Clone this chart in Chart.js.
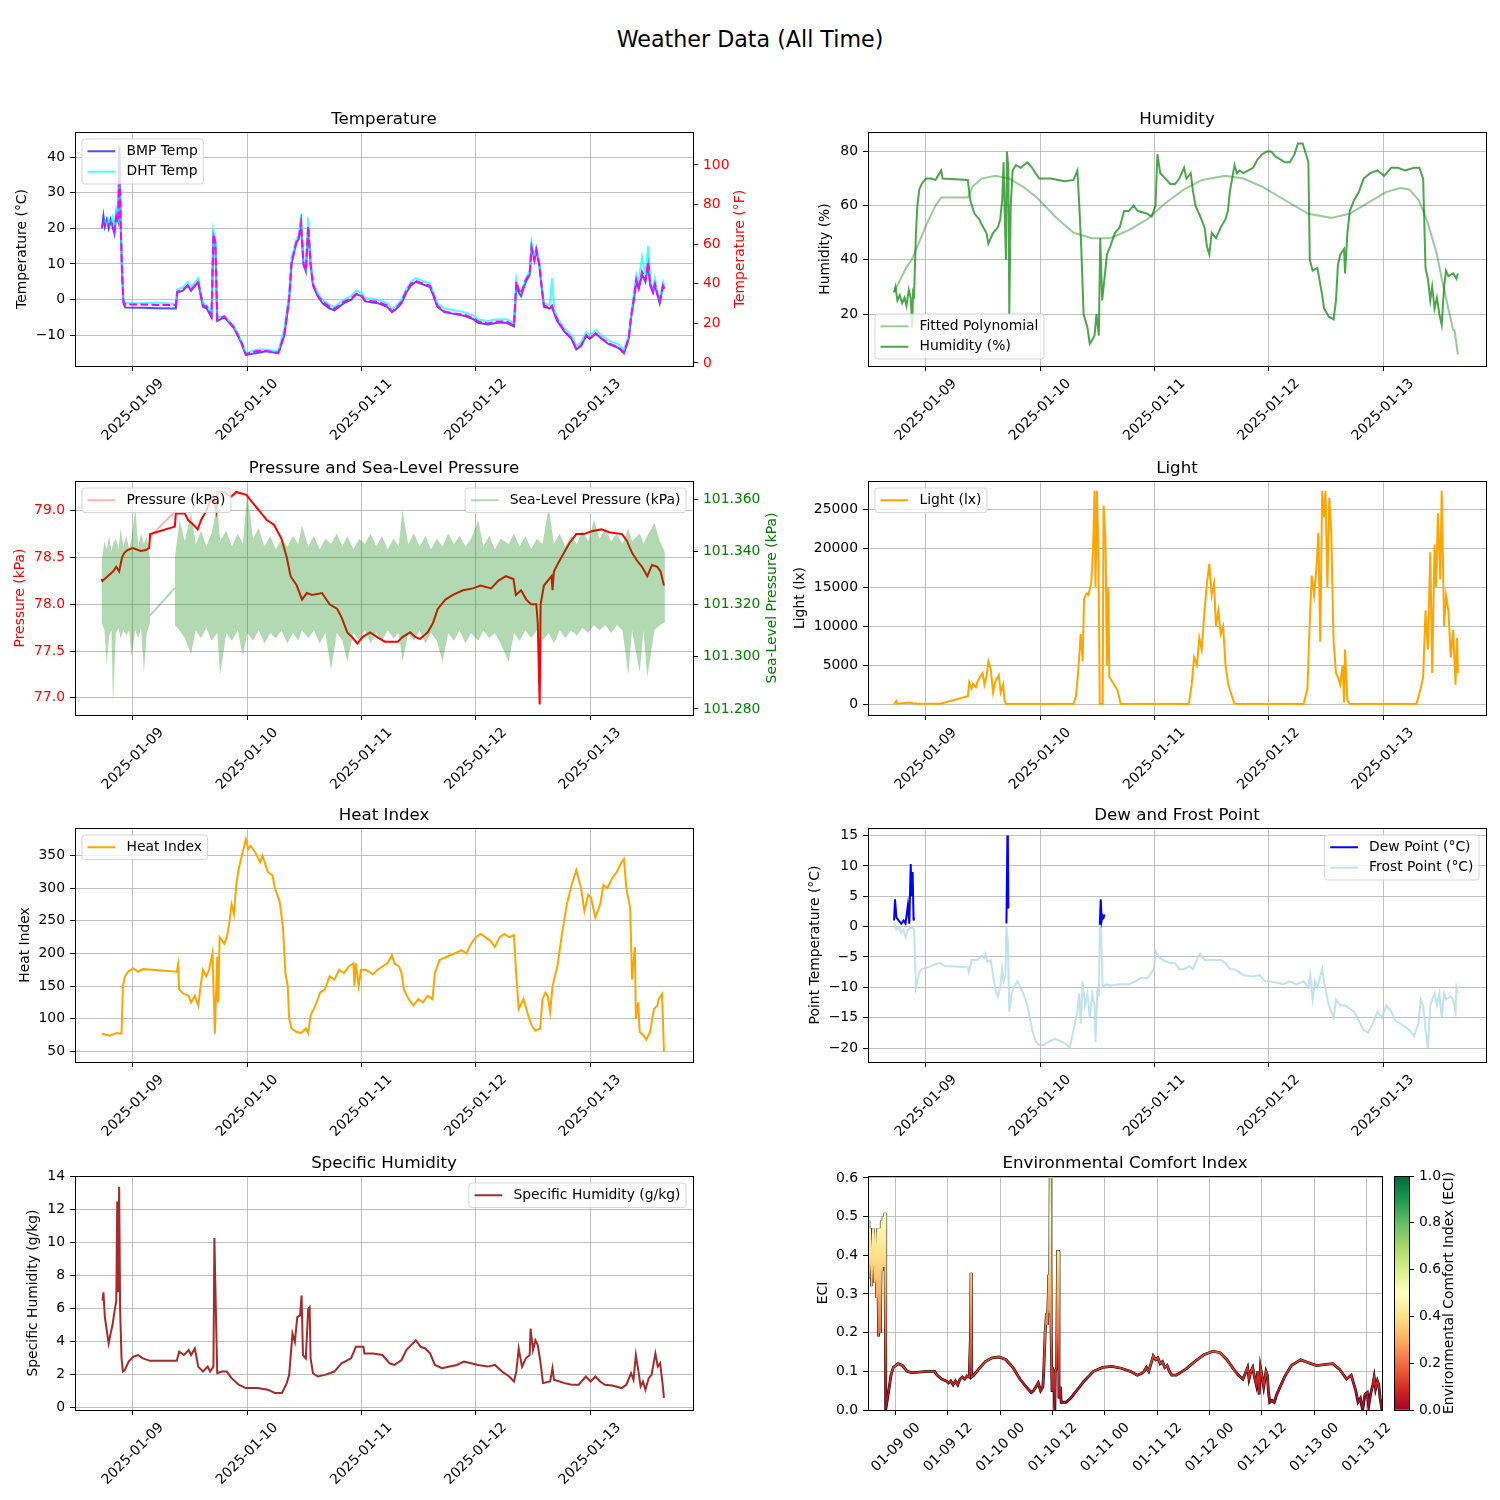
<!DOCTYPE html>
<html lang="en">
<head>
<meta charset="UTF-8">
<title>Weather Data (All Time)</title>
<script src="https://cdn.jsdelivr.net/npm/chart.js@4.4.0/dist/chart.umd.min.js"></script>
<style>
  body { margin: 0; background: #fff; }
  #fig { position: relative; width: 1500px; height: 1500px; overflow: hidden; font-family: 'DejaVu Sans', sans-serif; }
  #fig canvas { position: absolute; }
  #suptitle { position: absolute; left: 0; top: 26px; width: 1500px; text-align: center; font-size: 22.2px; line-height: 26px; color: #000; }
</style>
</head>
<body>
<div id="fig"><div id="suptitle">Weather Data (All Time)</div></div>
<script>
// x values are hours since 2025-01-09 00:00
const dayTickHours = [0, 24, 48, 72, 96];
const dayTickLabels = ['2025-01-09', '2025-01-10', '2025-01-11', '2025-01-12', '2025-01-13'];
const eciTickHours = [0, 12, 24, 36, 48, 60, 72, 84, 96, 108];
const eciTickLabels = ['01-09 00', '01-09 12', '01-10 00', '01-10 12', '01-11 00', '01-11 12', '01-12 00', '01-12 12', '01-13 00', '01-13 12'];

// Temperature
const tempHours = [-6.5,-6.2,-5.9,-5.5,-5.1,-4.7,-4.3,-3.9,-3.5,-3.1,-2.85,-2.6,-2.3,-2.0,-1.6,2,5,9,9.3,10.5,11.5,12.2,13.7,14.7,15.5,16.5,16.9,17.3,17.7,19.2,21.2,22.7,23.7,26,28,30.5,30.8,31.8,32.3,32.8,33.3,33.8,34.3,34.8,35.3,35.8,36.3,36.8,37.3,37.8,38.8,39.8,41.3,42.3,43.3,44.3,45.8,46.9,48,48.8,51.4,53.4,54.4,55.4,56.4,57.4,58.4,59.4,60.4,62.4,63.4,63.9,65.4,67.4,69.5,71.5,72.5,74.5,76.5,78.5,80,80.5,81,81.5,82.5,83.3,83.7,84.3,84.7,85.3,85.7,86.3,87.5,88,88.5,89.1,90.6,92.1,93.1,94.1,95.2,95.9,97.2,98.4,99.9,101.9,103.1,104.1,104.6,105.2,105.7,106.2,106.9,107.6,108.2,108.6,109.2,109.6,110.2,110.6,111.3,111.6];
const bmpTemp = [20,23.5,20.5,22.5,20,22.5,20.5,18.5,24,22,43,22,8,-1,-2.2,-2.3,-2.4,-2.5,2,2.5,4,2.5,5,-2,-2.5,-5,18,16,-6,-5,-8,-12,-15.5,-15,-14.5,-15,-14,-10,-5,0,10,13,16,17,21,10,8,20,10,4,1,-1,-2.5,-3,-2,-1,0,1.5,1,-0.5,-1,-2,-3.5,-2.5,-1,2,4,5,4.5,3.5,0,-2,-3.5,-4,-4.5,-5.5,-6.5,-7,-6.5,-6.5,-7.5,4,2,1,5,7,15,11,14,10,5,-2,-2.5,-2,-4,-6,-9,-11,-14,-13,-10,-11,-9.5,-11,-12.5,-13.5,-15,-11,-5,0,5,3,7,5,10,4,2,4,1,-1,4,3];
const dhtTemp = [21,21.5,22,21,22.5,21,23,20,25.5,23,35,24,9,0,-1,-1,-0.8,-1.2,2.8,3.5,5,3.5,6,-1,-1.5,-4,19.5,17,-5,-4.5,-7.5,-11.5,-15,-14,-14,-14.5,-13,-8,-3,2,12,14,17,18,24,11,9,23,11,5,2,0,-1.5,-2,-1,0,1,2.5,2,0.5,0,-1,-2.5,-1.5,0,3,5,6,5.5,4.5,1,-1,-2.5,-3,-3.5,-4.5,-5.5,-6,-5.5,-5.5,-6.5,6,3,2,6,8,16,12,14.5,11,6,-1,-1.5,6,-3,-5,-8,-10,-13,-12,-9,-10,-8.5,-10,-11.5,-12.5,-14,-10,-4,2,7,5,12,7,15,6,3,6,2,0,5,4];
const tempF = [69,71,70,70,69,71,70,67,74,72,97,73,46,31,29.5,29.5,29.3,29.3,36,37,39,37,41,29,28.5,24,65,61,22,23.5,18,11,4.5,6,6,5,7,15,24,33,51,56,61,63,71,50,47,69,50,39.5,34,31,28.5,27.5,29,31,32.5,35,34,31.5,31,29,26,28,31,36.5,40,41.5,40.5,39,32.5,29,26,25,24.5,22.5,21,20,21,21,19,41,37,35,42,45,58,52,57,50,41,29,28,29,25,22,16,12.5,7,9,14,12.5,15,12.5,10,8,5.5,12.5,23.5,33,42,38,46,42,51,40,36,40,34,31,39,38];

// Humidity
const humHours = [-6.7,-6.4,-6.0,-5.5,-5.0,-4.5,-4.1,-3.6,-3.2,-2.9,-2.7,-2.5,-2.1,-1.8,-1.4,-0.9,0,1.1,2.0,2.5,3.2,3.5,8.8,9.3,10.2,11.2,11.7,12.7,13.1,14.1,15.1,15.6,16.0,16.3,16.5,16.8,17.0,17.3,17.5,17.8,18.2,18.9,19.9,21.3,22.3,23.0,23.8,26.2,29.1,31.0,31.8,32.2,32.6,33.1,33.9,34.4,35.4,35.8,36.3,36.6,37.0,37.6,38.0,38.7,39.7,40.7,41.6,42.6,43.6,44.5,46.5,47.4,48.2,48.6,49.2,50.3,51.3,52.3,53.2,54.2,54.7,55.6,56.1,56.6,57.6,58.5,59.0,59.5,60.0,60.9,61.9,62.9,63.4,63.8,64.8,65.3,65.8,66.7,67.7,68.7,69.6,70.6,71.6,72.5,73.5,74.5,75.4,76.4,77.4,78.1,79.1,79.8,80.3,80.6,81.2,82.2,83.2,83.6,84.6,85.6,86.1,86.5,87.0,87.8,88.0,88.5,89.0,89.9,90.9,91.9,93.3,94.8,96.2,97.7,99.1,100.6,102.5,103.6,104.4,104.9,105.4,105.9,106.3,106.8,107.3,107.8,108.3,108.8,109.2,109.7,110.7,111.4,111.7];
const humidity = [28,30,25,27,24,26,23,29,26,15,28,27,50,60,66,68,70,70,69.5,71,73,70,69.5,62,57,55,53,50,46,50,52,55,62,76,60,40,80,74,20,60,73,75,74,76,74,72,70,70,69,69.5,73,60,45,20,15,9,12,20,12,48,25,35,42,45,50,52,58,58,60,58,57,56,60,79,72,70,68,68,70,74,70,72,65,60,56,52,45,42,50,48,52,55,58,65,75,72,73,72,73,74,77,79,80,80,78,77,76,76,79,83,83,79,76,40,36,37,27,22,19,18,25,38,42,44,35,50,58,62,65,70,72,73,71,74,74,73,74,74,70,37,33,25,30,22,26,20,16,30,36,34,35,33,35];
const polyHours = [-6.7,-4.2,-3.0,-1.8,0.1,2.0,3.2,8.8,9.8,11.7,14.6,17.5,20.4,23.3,27.1,31.0,34.9,38.7,42.6,46.5,50.3,54.2,58.0,62.9,66.7,70.6,75.4,80.3,85.1,88.9,92.8,96.6,99.6,101.5,103.5,105.3,107.3,108.3,109.7,110.7,111.0,111.7];
const polyFit = [28,37,40,45,53,60,63,63,67,70,71,70,67,63,56,50,48,48,51,55,61,66,69.5,71,70,67,62,57,55.5,57,61,65,66.5,66,62,54,42,33,22,14,14,5];

// Pressure and sea-level pressure
const presHours = [-6.6,-6.4,-5.3,-4.2,-3.5,-2.9,-2.3,-1.8,-1.1,0,1.6,2.7,3.4,3.6,8.8,9.0,10.9,11.6,12.7,13.6,14.3,15.4,16.2,16.9,17.5,17.7,19.1,20.6,21.7,23.8,24.9,26.5,28.1,29.6,31.2,32.3,33.1,34.4,35.5,36.5,37.6,39.7,41.3,42.9,43.9,45.0,46.0,47.1,48.2,49.8,51.3,52.9,54.0,55.6,56.6,58.2,59.3,60.3,61.9,63.0,64.0,65.6,67.2,69.3,71.4,73.0,75.2,76.7,78.3,79.9,80.4,81.5,82.6,83.6,84.7,85.0,85.4,85.6,86.3,87.9,88.1,88.4,89.4,91.6,93.1,94.7,96.3,98.4,100.0,102.7,103.7,104.8,105.8,106.9,108.0,109.0,110.1,110.8,111.5];
const pressure = [78.27,78.25,78.30,78.35,78.40,78.35,78.50,78.55,78.58,78.60,78.57,78.58,78.60,78.75,78.83,78.97,78.97,78.90,78.85,78.80,78.90,79.00,79.10,79.15,79.00,79.20,79.20,79.15,79.20,79.17,79.10,79.00,78.90,78.85,78.70,78.50,78.30,78.20,78.05,78.12,78.10,78.12,78.00,77.95,77.85,77.70,77.65,77.58,77.65,77.70,77.65,77.60,77.60,77.60,77.65,77.70,77.65,77.63,77.70,77.80,77.95,78.05,78.10,78.15,78.17,78.20,78.17,78.25,78.30,78.27,78.10,78.15,78.05,78.00,78.00,77.80,76.93,78.00,78.20,78.30,78.15,78.35,78.45,78.65,78.75,78.75,78.78,78.80,78.77,78.75,78.68,78.55,78.47,78.40,78.30,78.42,78.40,78.35,78.20];
const rawGapHours = [3.5, 9.0];
const rawGapPressure = [78.72, 79.0];
const slpHours = [-6.6,-6.0,-5.5,-5.0,-4.5,-4.2,-3.6,-3.0,-2.6,-2.0,-1.4,-0.8,-0.3,0.5,1.1,1.7,2.3,2.9,3.6,6.0,8.8,9.8,10.9,12.2,13.2,14.3,15.4,16.5,17.7,18.3,19.6,20.8,22.0,23.1,24.0,25.2,26.4,27.6,28.8,30.0,31.2,32.4,33.6,34.7,35.5,36.8,38.0,39.2,40.4,41.6,42.8,44.0,45.0,46.3,47.5,48.7,49.9,51.1,52.3,53.5,54.7,55.8,56.6,57.8,59.0,60.2,61.4,62.6,63.8,65.0,66.2,67.4,68.6,69.8,71.0,72.5,73.6,74.8,76.0,77.2,78.9,80.0,81.2,82.4,83.6,84.8,86.0,87.3,88.4,89.6,90.8,92.0,93.2,94.4,95.6,96.8,98.0,99.2,100.4,101.6,102.8,104.0,104.8,106.4,107.2,108.0,109.5,110.6,111.7];
const slpHigh = [101.336,101.344,101.341,101.346,101.340,101.343,101.345,101.341,101.349,101.342,101.346,101.341,101.345,101.357,101.342,101.347,101.343,101.346,101.337,null,101.338,
  101.352,101.344,101.355,101.343,101.348,101.342,101.347,101.358,101.344,101.348,
  101.342,101.347,101.343,101.363,101.345,101.349,101.342,101.346,101.341,101.345,
  101.342,101.346,101.343,101.350,101.342,101.346,101.341,101.345,101.343,101.347,
  101.342,101.346,101.341,101.345,101.343,101.347,101.342,101.346,101.341,101.345,
  101.342,101.356,101.343,101.347,101.342,101.346,101.341,101.345,101.342,101.347,
  101.343,101.346,101.342,101.345,101.352,101.342,101.346,101.341,101.345,101.343,
  101.347,101.342,101.346,101.341,101.345,101.343,101.357,101.343,101.347,101.342,
  101.346,101.343,101.348,101.344,101.352,101.345,101.349,101.344,101.347,101.343,
  101.349,101.344,101.347,101.343,101.346,101.351,101.344,101.340];
const slpLow = [101.313,101.310,101.297,101.308,101.310,101.282,101.309,101.311,101.307,101.310,101.308,101.310,101.300,101.310,101.307,101.311,101.294,101.309,101.313,null,101.312,
  101.310,101.307,101.301,101.310,101.307,101.311,101.306,101.309,101.293,101.309,
  101.306,101.310,101.300,101.309,101.306,101.310,101.305,101.309,101.307,101.310,
  101.305,101.309,101.306,101.310,101.307,101.310,101.305,101.309,101.295,101.309,
  101.306,101.298,101.309,101.306,101.310,101.305,101.309,101.306,101.310,101.307,
  101.309,101.298,101.309,101.306,101.310,101.305,101.309,101.306,101.298,101.309,
  101.306,101.310,101.305,101.309,101.306,101.310,101.307,101.309,101.305,101.298,
  101.309,101.306,101.310,101.307,101.310,101.306,101.309,101.305,101.310,101.307,
  101.310,101.308,101.311,101.309,101.312,101.310,101.312,101.309,101.312,101.310,
  101.293,101.310,101.294,101.310,101.292,101.310,101.312,101.313];
const slpGapHours = [3.6, 8.8];
const slpGapValues = [101.3157, 101.3262];

// Light
const lightHours = [-6.7,-6.2,-6.0,-3.3,-2.8,-1.8,3.0,8.8,9.1,9.6,9.9,10.5,10.9,11.4,11.9,12.3,12.7,13.1,13.6,14.1,14.6,15.3,15.7,16.2,16.5,16.8,31.0,31.5,32.0,32.5,32.9,33.2,33.7,34.1,34.7,35.1,35.4,35.6,35.9,36.2,36.5,37.1,37.3,37.7,38.0,38.3,38.5,39.2,40.2,40.9,55.2,55.8,56.3,56.9,57.4,57.9,58.5,59.0,59.5,60.0,60.5,60.9,61.4,61.9,62.4,62.9,63.5,64.0,64.8,79.3,80.1,80.5,81.0,81.5,82.0,82.4,82.8,83.2,83.6,83.9,84.3,84.7,85.1,85.6,86.1,86.5,87.0,87.5,87.8,88.0,88.5,89.0,103.0,103.9,104.4,104.9,105.4,105.9,106.3,106.8,107.1,107.5,108.0,108.3,108.8,109.2,109.7,110.2,110.7,111.2,111.5,111.7];
const light = [0,400,50,200,100,60,50,1000,2800,2000,2600,2200,3000,3500,4000,2500,3500,5500,4500,1500,3000,3700,1500,2500,500,0,0,1000,4500,9000,5500,13500,14200,14000,15500,20000,27400,15000,27400,20000,0,0,25500,21000,5000,15000,3500,2800,1800,0,0,2500,6000,5000,8500,7000,12000,15500,18000,14000,15500,10000,12000,9000,10000,5000,2500,1500,0,0,2000,9000,16500,14000,17500,22000,8000,27400,24000,27400,15000,26500,22000,8000,4000,3500,2500,5000,200,7000,500,0,0,2000,3500,12000,7000,19500,4000,20500,15000,24500,16000,27400,10000,14000,12000,6000,9500,2500,8500,4000];

// Heat index
const heatHours = [-6.5,-4.9,-3.4,-2.4,-2.1,-1.7,-0.9,0.1,1.1,2.1,4.1,9.2,9.5,9.7,10.7,11.7,12.2,13.0,13.7,14.2,14.7,15.4,16.0,16.7,17.2,17.7,17.9,18.2,19.2,19.7,20.2,20.7,21.2,21.7,22.2,22.7,23.2,23.7,24.2,24.7,25.7,26.7,27.2,28.3,29.3,29.8,30.8,31.5,32.0,32.5,32.8,33.3,34.3,35.3,36.3,36.8,37.3,38.3,39.3,40.3,41.3,42.3,43.3,44.3,45.3,46.3,46.5,46.8,47.4,47.9,48.9,50.4,51.4,52.4,53.4,54.4,54.9,55.9,56.4,56.9,57.9,58.9,59.9,60.9,61.9,62.9,63.4,64.4,65.9,67.5,69.0,70.0,71.0,72.0,73.0,74.0,75.0,76.0,77.0,78.0,79.0,80.0,80.5,81.0,82.0,83.0,83.7,84.5,85.5,86.0,86.6,87.1,87.6,88.1,89.1,90.1,91.1,92.1,93.1,94.1,94.8,95.6,96.2,97.1,98.1,98.8,99.6,100.6,101.6,102.6,103.1,103.6,104.4,104.8,105.4,105.6,106.1,106.4,107.1,107.8,108.6,109.4,110.1,110.4,111.1,111.5];
const heatIndex = [77,74,78,77,150,165,173,177,172,176,175,172,183,145,138,135,125,135,120,150,175,165,175,200,77,195,125,225,215,225,245,275,260,305,330,345,360,375,360,365,355,340,350,325,320,300,280,240,170,150,100,85,80,78,85,78,105,120,140,145,165,160,175,170,180,185,150,185,150,175,175,168,175,180,185,197,185,180,170,145,130,120,130,125,135,130,170,190,195,200,205,200,215,225,230,225,220,210,225,230,225,228,165,115,130,105,90,82,85,130,140,135,110,150,180,230,275,305,328,300,265,290,285,255,275,305,300,315,325,340,345,300,270,160,210,100,125,80,75,68,80,115,120,130,138,50];

// Dew and frost point
const dewHours = [-6.7,-6.5,-6.2,-5.7,-5.2,-4.7,-4.3,-3.8,-3.5,-3.2,-3.0,-2.8,-2.6,-2.5,5,16.9,17.1,17.2,17.3,25,36.5,36.7,36.9,37.1,37.3,37.5];
const dewPoint = [1,4.5,1.5,1,0.5,1,0.5,3.5,0.5,10.3,5,9,1,1.5,null,0.5,15,14,3,null,0.3,4.5,1,1.8,1.5,2];
const frostHours = [-6.7,-6.2,-5.7,-5.2,-4.7,-4.3,-3.8,-3.1,-2.5,-2.1,-1.4,-0.9,1.1,2.0,3.0,4.0,8.8,9.0,9.6,10.7,11.7,12.2,12.5,12.9,13.6,14.1,14.6,15.1,15.6,16.0,16.3,16.7,16.9,17.2,17.5,18.0,18.5,19.2,19.9,20.9,21.3,21.8,22.3,23.1,23.8,24.7,25.7,27.1,28.6,29.6,30.2,31.0,31.8,32.2,32.5,32.9,33.4,33.9,34.4,34.9,35.4,35.6,36.0,36.3,36.5,36.8,37.1,37.8,38.7,40.7,42.6,44.0,45.0,46.5,47.4,47.9,48.2,48.9,49.8,51.3,52.3,53.2,54.2,55.2,56.1,57.1,57.6,58.5,60.0,61.9,62.9,63.8,64.8,65.8,66.7,68.7,70.1,71.1,72.1,73.5,75.0,76.4,77.8,79.3,80.3,80.7,81.2,81.7,82.2,83.2,83.6,84.1,84.6,85.1,85.6,86.1,87.0,88.0,89.0,89.9,90.9,91.9,92.8,93.8,94.8,95.7,96.7,97.7,98.6,99.6,100.6,101.5,102.5,103.4,103.9,104.4,104.9,105.4,105.9,106.3,106.8,107.3,107.8,108.3,108.8,109.2,110.2,110.7,111.2,111.4,111.7];
const frostPoint = [0.5,-0.5,0,-1,-0.5,-1.7,-0.5,0,-0.5,-10,-7.5,-7,-6.5,-6.2,-6,-6.5,-6.7,-7.5,-5.5,-5.5,-4.8,-5.2,-4.5,-5.8,-5.5,-8,-10.5,-11.5,-10,-7,-9,-8,0,-2.5,-14,-11,-10,-9,-10,-12,-13,-15,-17,-19,-19.5,-19.5,-19,-18.5,-19,-19.5,-20,-17,-14,-11,-16,-9,-13,-11,-15,-11,-13,-19,-10,-11.5,0,-1,-10,-9.5,-9.7,-9.5,-9.5,-9,-8.5,-8.5,-7.5,-7,-4,-5,-5.5,-6,-6,-7,-7,-6.5,-7,-5,-4.5,-5.5,-5.5,-5.5,-6,-7,-7,-7.5,-8,-8.2,-8,-9,-9,-9.2,-9.5,-9,-9.5,-9,-10,-8,-12,-9,-10,-7,-9,-11,-13,-14,-15,-12,-13,-13,-13.5,-14,-15.5,-17,-17.5,-16,-14,-15,-13,-14,-15.5,-16,-16.5,-17,-18,-16,-12,-13,-17,-20,-13,-12,-11,-13,-11,-15,-11,-12,-11.5,-12,-14,-10,-11];

// Specific humidity
const shHours = [-6.4,-6.2,-5.9,-5.4,-5.1,-4.7,-4.3,-3.9,-3.5,-3.3,-3.1,-2.9,-2.7,-2.4,-2.1,-1.7,-0.9,0.1,1.1,2.1,3.6,9.2,9.7,10.7,11.7,12.2,13.0,13.7,14.7,15.7,16.2,16.9,17.1,17.4,17.7,18.7,19.7,20.7,22.2,23.7,26.2,28.3,29.8,31.3,32.3,32.8,33.5,34.0,34.5,35.1,35.4,35.7,36.3,36.8,37.1,37.3,37.8,38.8,40.3,42.3,43.8,45.8,46.8,48.4,48.6,50.4,52.4,53.9,54.9,56.4,57.4,58.4,59.4,60.4,61.4,62.4,63.4,64.9,66.5,68.0,69.5,71.0,72.5,74.5,76.0,77.5,79.0,80.0,80.5,81.0,81.7,82.5,83.3,83.5,84.0,84.5,85.0,85.5,86.1,87.6,88.1,88.4,89.6,90.6,92.1,93.6,95.1,96.1,97.1,98.1,99.1,100.6,102.6,103.6,104.6,105.1,105.6,106.1,106.6,107.1,107.6,108.3,108.9,109.7,110.2,110.7,111.2,111.5];
const specHum = [6.5,7,5.5,4.5,3.9,4.5,5,5.8,6.5,12.5,7,13.4,6,3,2.2,2.3,2.8,3.1,3.2,3.0,2.85,2.85,3.4,3.2,3.5,3.2,3.6,2.5,2.2,2.5,2.2,2.5,10.3,6,2.1,2.2,2.2,1.8,1.4,1.2,1.2,1.1,0.9,0.9,1.5,2,4.5,4,5.5,5.6,6.8,3.2,3,6,6.1,3,2.1,1.9,2,2.2,2.7,3.0,3.7,3.7,3.3,3.3,3.2,2.7,2.6,2.9,3.5,3.8,4.1,3.7,3.6,3.3,2.6,2.4,2.5,2.6,2.8,2.7,2.6,2.5,2.6,2.2,1.9,1.6,2.2,3.6,2.5,3,3.2,4.8,3.5,4.1,3.8,2.9,1.5,1.6,2.4,1.7,1.6,1.5,1.4,1.4,1.9,1.6,1.9,1.6,1.4,1.35,1.2,1.4,2.1,1.7,3.2,2.3,1.3,1.6,1.1,1.8,2,3.3,2.5,2.7,1.5,0.6];

// Environmental comfort index
const eciHours = [-6.33,-6.12,-5.8,-5.49,-5.17,-4.85,-4.64,-4.33,-4.12,-3.91,-3.69,-3.48,-3.27,-3.06,-2.85,-2.64,-2.43,-2.32,-2.22,-1.58,-1.06,-0.53,0.53,1.58,2.64,3.69,5.28,7.39,8.97,9.5,10.55,11.61,12.14,12.66,13.19,13.72,14.25,14.78,15.3,15.83,16.36,16.89,17.2,17.31,17.41,17.94,19.0,20.58,22.16,23.75,25.33,26.91,28.5,30.08,31.13,31.66,32.19,32.72,33.25,33.77,33.98,34.3,34.62,34.83,35.15,35.36,35.46,35.57,35.67,35.88,35.99,36.31,36.52,36.62,36.94,37.15,37.36,37.47,37.78,37.99,39.05,40.11,41.16,43.27,45.38,47.49,49.6,51.72,53.83,55.41,56.46,56.99,57.52,58.05,58.58,59.1,59.63,60.16,60.69,61.21,61.74,62.27,62.8,63.32,64.38,66.49,68.6,70.71,72.82,74.41,75.99,77.57,78.63,79.68,80.21,80.74,81.06,81.48,81.9,82.32,82.74,83.06,83.38,83.69,84.01,84.43,84.96,85.28,85.49,85.8,86.33,86.86,87.39,87.81,89.18,90.77,92.88,94.46,96.57,98.68,100.26,101.85,103.43,104.49,105.01,105.54,106.07,106.6,107.12,107.65,108.18,108.5,108.92,109.45,109.76,110.08,110.5,110.82,111.13,111.56];
const eci = [0.49,0.34,0.47,0.32,0.47,0.33,0.46,0.29,0.47,0.19,0.47,0.2,0.49,0.36,0.5,0.37,0.51,0.36,0.0,0.05,0.09,0.11,0.12,0.115,0.1,0.097,0.098,0.1,0.1,0.09,0.08,0.075,0.07,0.075,0.065,0.075,0.065,0.08,0.085,0.08,0.088,0.085,0.2,0.355,0.085,0.09,0.105,0.125,0.135,0.137,0.13,0.11,0.08,0.058,0.045,0.05,0.06,0.07,0.05,0.06,0.1,0.2,0.25,0.22,0.35,0.25,0.6,0.4,0.2,0.05,0.11,0.08,0.0,0.1,0.11,0.41,0.41,0.03,0.06,0.02,0.02,0.03,0.045,0.075,0.1,0.11,0.113,0.108,0.1,0.09,0.095,0.1,0.11,0.1,0.12,0.14,0.13,0.135,0.12,0.125,0.11,0.115,0.1,0.09,0.09,0.105,0.125,0.143,0.152,0.148,0.13,0.105,0.09,0.08,0.095,0.11,0.08,0.1,0.11,0.085,0.065,0.1,0.04,0.11,0.09,0.06,0.1,0.09,0.05,0.02,0.025,0.02,0.04,0.05,0.085,0.115,0.13,0.123,0.115,0.118,0.12,0.105,0.08,0.09,0.07,0.05,0.02,0.03,0.0,0.04,0.045,0.01,0.04,0.065,0.085,0.055,0.075,0.065,0.03,0.0];
const cbarRange = [0, 1];

// tick values
const tempCTicks = [-10, 0, 10, 20, 30, 40];
const tempFTicks = [0, 20, 40, 60, 80, 100];
const humTicks = [20, 40, 60, 80];
const presTicks = [77.0, 77.5, 78.0, 78.5, 79.0];
const slpTicks = [101.28, 101.30, 101.32, 101.34, 101.36];
const lightTicks = [0, 5000, 10000, 15000, 20000, 25000];
const heatTicks = [50, 100, 150, 200, 250, 300, 350];
const dewTicks = [-20, -15, -10, -5, 0, 5, 10, 15];
const shTicks = [0, 2, 4, 6, 8, 10, 12, 14];
const eciTicks = [0, 0.1, 0.2, 0.3, 0.4, 0.5, 0.6];
const cbarTicks = [0, 0.2, 0.4, 0.6, 0.8, 1.0];

// RdYlGn colour map
const rdylgn = ['#a50026','#d73027','#f46d43','#fdae61','#fee08b','#ffffbf','#d9ef8b','#a6d96a','#66bd63','#1a9850','#006837'];

Chart.defaults.font.family = "'DejaVu Sans', sans-serif";
Chart.defaults.font.size = 13.9;
Chart.defaults.color = '#000';
Chart.defaults.animation = false;
Chart.defaults.responsive = false;
Chart.defaults.devicePixelRatio = 1;
Chart.defaults.events = [];
Chart.defaults.elements.point.radius = 0;
Chart.defaults.plugins.legend.display = false;
Chart.defaults.plugins.tooltip.enabled = false;

const fig = document.getElementById('fig');
const FS = 13.9;
const LW = 90, TH = 34, BH = 110, PH = 234;
const COL_L = 75, COL_R = 868, PW = 618;
const ROWS = [132, 481, 828, 1176];

const pts = (xs, ys) => xs.map((x, i) => ({ x: x, y: ys[i] }));
const minus = v => (v < 0 ? '\u2212' + Math.abs(v) : String(v));
const fixedTicks = vals => scale => { scale.ticks = vals.map(v => ({ value: v })); };

function cmapGradient(chart) {
  const y = chart.scales.y;
  const g = chart.ctx.createLinearGradient(0, y.getPixelForValue(0), 0, y.getPixelForValue(1));
  rdylgn.forEach((c, i) => g.addColorStop(i / 10, c));
  return g;
}

function roundRectPath(ctx, x, y, w, h, r) {
  ctx.moveTo(x + r, y);
  ctx.lineTo(x + w - r, y); ctx.quadraticCurveTo(x + w, y, x + w, y + r);
  ctx.lineTo(x + w, y + h - r); ctx.quadraticCurveTo(x + w, y + h, x + w - r, y + h);
  ctx.lineTo(x + r, y + h); ctx.quadraticCurveTo(x, y + h, x, y + h - r);
  ctx.lineTo(x, y + r); ctx.quadraticCurveTo(x, y, x + r, y);
  ctx.closePath();
}

function drawLegend(ctx, a, lg) {
  const pad = 0.4 * FS, hl = 2 * FS, htp = 0.8 * FS, gap = 0.5 * FS, rowH = 13.5, off = 0.5 * FS;
  const tw = Math.max(...lg.items.map(it => ctx.measureText(it.text).width));
  const bw = 2 * pad + hl + htp + tw;
  const bh = 2 * pad + lg.items.length * rowH + (lg.items.length - 1) * gap;
  const x = lg.loc.indexOf('left') >= 0 ? a.left + off : a.right - off - bw;
  const y = lg.loc.indexOf('upper') >= 0 ? a.top + off : a.bottom - off - bh;
  ctx.beginPath();
  roundRectPath(ctx, x, y, bw, bh, 3);
  ctx.fillStyle = 'rgba(255,255,255,0.8)';
  ctx.fill();
  ctx.strokeStyle = 'rgba(204,204,204,0.8)';
  ctx.lineWidth = 1;
  ctx.stroke();
  lg.items.forEach((it, i) => {
    const cy = y + pad + i * (rowH + gap) + rowH / 2;
    ctx.beginPath();
    ctx.setLineDash(it.dash || []);
    ctx.strokeStyle = it.color;
    ctx.lineWidth = 2;
    ctx.moveTo(x + pad, cy);
    ctx.lineTo(x + pad + hl, cy);
    ctx.stroke();
    ctx.setLineDash([]);
    ctx.fillStyle = '#000';
    ctx.textAlign = 'left';
    ctx.fillText(it.text, x + pad + hl + htp, cy);
  });
}

// axes frame, inside legends and right-hand axis labels (drawn like matplotlib)
function mpl(legends, sideLabels) {
  return {
    id: 'mplFrame',
    afterDatasetsDraw(chart) {
      const ctx = chart.ctx, a = chart.chartArea;
      const al = p => Math.round(p - 0.5) + 0.5;
      ctx.save();
      ctx.setLineDash([]);
      ctx.strokeStyle = '#000';
      ctx.lineWidth = 1;
      ctx.strokeRect(al(a.left), al(a.top), al(a.right) - al(a.left), al(a.bottom) - al(a.top));
      ctx.font = FS + "px 'DejaVu Sans'";
      ctx.textBaseline = 'middle';
      (sideLabels || []).forEach(s => {
        ctx.save();
        ctx.translate(a.right + s.dist, (a.top + a.bottom) / 2);
        ctx.rotate(-Math.PI / 2);
        ctx.fillStyle = s.color;
        ctx.textAlign = 'center';
        ctx.fillText(s.text, 0, 0);
        ctx.restore();
      });
      (legends || []).forEach(lg => drawLegend(ctx, a, lg));
      ctx.restore();
    }
  };
}

function xAxis(min, max, tickHours, tickLabels, offset) {
  return {
    type: 'linear', min: min, max: max,
    afterBuildTicks: fixedTicks(tickHours),
    afterFit: s => { s.height = BH; s.paddingLeft = 0; s.paddingRight = 0; },
    ticks: { callback: v => tickLabels[tickHours.indexOf(v)] || '', minRotation: 45, maxRotation: 45, autoSkip: false, labelOffset: offset, padding: 4.5 },
    grid: { color: '#b0b0b0', lineWidth: 0.8, tickLength: 5, tickColor: '#000', tickWidth: 1 },
    border: { display: false }
  };
}

function yAxis(o, side, width) {
  return {
    type: 'linear', position: side, min: o.min, max: o.max,
    afterBuildTicks: fixedTicks(o.ticks),
    afterFit: s => { s.width = width; s.paddingTop = 0; s.paddingBottom = 0; },
    ticks: { callback: o.fmt, color: o.color || '#000', padding: 5 },
    grid: { color: '#b0b0b0', lineWidth: 0.8, tickLength: 5, tickColor: '#000', tickWidth: 1, drawOnChartArea: side === 'left' },
    border: { display: false },
    title: side === 'left'
      ? { display: true, text: o.label, color: o.labelColor || '#000', padding: width - o.dist - FS * 0.6 }
      : { display: false }
  };
}

function panel(o) {
  const rightW = o.y1 ? 95 : 12;
  const w = LW + o.w + rightW, h = TH + PH + BH;
  const c = document.createElement('canvas');
  c.width = w; c.height = h;
  c.style.left = (o.x - LW) + 'px';
  c.style.top = (o.y - TH) + 'px';
  fig.appendChild(c);
  const scales = {
    x: xAxis(o.xMin, o.xMax, o.xTicks, o.xLabels, o.xOffset),
    y: yAxis(o.yAxis, 'left', LW)
  };
  if (o.y1) scales.y1 = yAxis(o.y1, 'right', rightW);
  return new Chart(c, {
    type: 'line',
    data: { datasets: o.datasets },
    options: {
      layout: { padding: { left: 0, top: 0, bottom: 0, right: o.y1 ? 0 : rightW }, autoPadding: false },
      scales: scales,
      plugins: {
        title: { display: true, fullSize: false, text: o.title, color: '#000', font: { size: 16.67, weight: 'normal' }, padding: { top: 11.2, bottom: 2.8 } }
      }
    },
    plugins: [mpl(o.legends, o.side)]
  });
}

const line = (xs, ys, color, width, extra) =>
  Object.assign({ data: pts(xs, ys), borderColor: color, borderWidth: width, fill: false, pointRadius: 0 }, extra || {});

const DAY_X = { xMin: -12.17, xMax: 117.6, xTicks: dayTickHours, xLabels: dayTickLabels, xOffset: 28.5, w: PW };

// Temperature
panel(Object.assign({}, DAY_X, {
  x: COL_L, y: ROWS[0], title: 'Temperature',
  yAxis: { min: -18.62, max: 47.02, ticks: tempCTicks, fmt: minus, label: 'Temperature (°C)', dist: 53 },
  y1: { min: -1.52, max: 116.64, ticks: tempFTicks, fmt: minus, color: 'red' },
  datasets: [
    line(tempHours, bmpTemp, 'rgba(0,0,255,0.7)', 2, { order: 3 }),
    line(tempHours, dhtTemp, 'rgba(0,255,255,0.7)', 2, { order: 2 }),
    line(tempHours, tempF, 'magenta', 2, { order: 1, yAxisID: 'y1', borderDash: [7.7, 3.3] })
  ],
  legends: [{ loc: 'upper left', items: [
    { text: 'BMP Temp', color: 'rgba(0,0,255,0.7)' },
    { text: 'DHT Temp', color: 'rgba(0,255,255,0.7)' }
  ] }],
  side: [{ text: 'Temperature (°F)', dist: 47, color: 'red' }]
}));

// Humidity
panel(Object.assign({}, DAY_X, {
  x: COL_R, y: ROWS[0], title: 'Humidity',
  yAxis: { min: 0.8, max: 87.2, ticks: humTicks, fmt: minus, label: 'Humidity (%)', dist: 43 },
  datasets: [
    line(polyHours, polyFit, 'rgba(0,128,0,0.4)', 2, { order: 2 }),
    line(humHours, humidity, 'rgba(0,128,0,0.7)', 2, { order: 1 })
  ],
  legends: [{ loc: 'lower left', items: [
    { text: 'Fitted Polynomial', color: 'rgba(0,128,0,0.4)' },
    { text: 'Humidity (%)', color: 'rgba(0,128,0,0.7)' }
  ] }]
}));

// Pressure and sea-level pressure
panel(Object.assign({}, DAY_X, {
  x: COL_L, y: ROWS[1], title: 'Pressure and Sea-Level Pressure',
  yAxis: { min: 76.817, max: 79.317, ticks: presTicks, fmt: v => v.toFixed(1), color: 'red', label: 'Pressure (kPa)', labelColor: 'red', dist: 55 },
  y1: { min: 101.2777, max: 101.367, ticks: slpTicks, fmt: v => v.toFixed(3), color: 'green' },
  datasets: [
    line(presHours, pressure, 'red', 2, { order: 3 }),
    line(rawGapHours, rawGapPressure, 'rgba(255,0,0,0.3)', 2, { order: 4 }),
    line(slpHours, slpHigh, 'rgba(0,0,0,0)', 1, { order: 1, yAxisID: 'y1', fill: '+1', backgroundColor: 'rgba(0,128,0,0.3)' }),
    line(slpHours, slpLow, 'rgba(0,0,0,0)', 1, { order: 2, yAxisID: 'y1' }),
    line(slpGapHours, slpGapValues, 'rgba(0,128,0,0.3)', 2, { order: 0, yAxisID: 'y1' })
  ],
  legends: [
    { loc: 'upper left', items: [{ text: 'Pressure (kPa)', color: 'rgba(255,0,0,0.3)' }] },
    { loc: 'upper right', items: [{ text: 'Sea-Level Pressure (kPa)', color: 'rgba(0,128,0,0.3)' }] }
  ],
  side: [{ text: 'Sea-Level Pressure (kPa)', dist: 79, color: 'green' }]
}));

// Light
panel(Object.assign({}, DAY_X, {
  x: COL_R, y: ROWS[1], title: 'Light',
  yAxis: { min: -1400, max: 28650, ticks: lightTicks, fmt: minus, label: 'Light (lx)', dist: 68 },
  datasets: [ line(lightHours, light, 'orange', 2) ],
  legends: [{ loc: 'upper left', items: [{ text: 'Light (lx)', color: 'orange' }] }]
}));

// Heat index
panel(Object.assign({}, DAY_X, {
  x: COL_L, y: ROWS[2], title: 'Heat Index',
  yAxis: { min: 33.6, max: 392.4, ticks: heatTicks, fmt: minus, label: 'Heat Index', dist: 50 },
  datasets: [ line(heatHours, heatIndex, 'orange', 2) ],
  legends: [{ loc: 'upper left', items: [{ text: 'Heat Index', color: 'orange' }] }]
}));

// Dew and frost point
panel(Object.assign({}, DAY_X, {
  x: COL_R, y: ROWS[2], title: 'Dew and Frost Point',
  yAxis: { min: -22.3, max: 16.25, ticks: dewTicks, fmt: minus, label: 'Point Temperature (°C)', dist: 53 },
  datasets: [
    line(frostHours, frostPoint, 'rgba(173,216,230,0.75)', 2, { order: 2 }),
    line(dewHours, dewPoint, 'blue', 2, { order: 1 })
  ],
  legends: [{ loc: 'upper right', items: [
    { text: 'Dew Point (°C)', color: 'blue' },
    { text: 'Frost Point (°C)', color: 'rgba(173,216,230,0.75)' }
  ] }]
}));

// Specific humidity
panel(Object.assign({}, DAY_X, {
  x: COL_L, y: ROWS[3], title: 'Specific Humidity',
  yAxis: { min: -0.13, max: 14.05, ticks: shTicks, fmt: minus, label: 'Specific Humidity (g/kg)', dist: 41.5 },
  datasets: [ line(shHours, specHum, 'brown', 2) ],
  legends: [{ loc: 'upper right', items: [{ text: 'Specific Humidity (g/kg)', color: 'brown' }] }]
}));

// Environmental comfort index
panel({
  x: COL_R, y: ROWS[3], w: 514, title: 'Environmental Comfort Index',
  xMin: -6.33, xMax: 111.56, xTicks: eciTickHours, xLabels: eciTickLabels, xOffset: 22.5,
  yAxis: { min: 0, max: 0.605, ticks: eciTicks, fmt: v => v.toFixed(1), label: 'ECI', dist: 45 },
  datasets: [
    line(eciHours, eci, c => (c.chart.chartArea ? cmapGradient(c.chart) : '#d73027'), 1.8, { order: 1 }),
    line(eciHours, eci, '#000', 2.8, { order: 2 })
  ],
  legends: []
});

// colour bar
(function () {
  const cbW = 15, cbR = 90, cbPad = 12;
  const c = document.createElement('canvas');
  c.width = cbW + cbR; c.height = PH + 2 * cbPad;
  c.style.left = '1394px';
  c.style.top = (ROWS[3] - cbPad) + 'px';
  fig.appendChild(c);
  new Chart(c, {
    type: 'bar',
    data: {
      labels: ['ECI'],
      datasets: [{
        data: [cbarRange],
        backgroundColor: ctx => (ctx.chart.chartArea ? cmapGradient(ctx.chart) : '#ffffbf'),
        borderWidth: 0, barPercentage: 1, categoryPercentage: 1
      }]
    },
    options: {
      layout: { padding: { left: 0, right: 0, top: cbPad, bottom: cbPad }, autoPadding: false },
      scales: {
        x: { display: false },
        y: {
          position: 'right', min: 0, max: 1,
          afterBuildTicks: fixedTicks(cbarTicks),
          afterFit: s => { s.width = cbR; s.paddingTop = 0; s.paddingBottom = 0; },
          ticks: { callback: v => v.toFixed(1), padding: 5 },
          grid: { drawOnChartArea: false, tickLength: 5, tickColor: '#000', tickWidth: 1 },
          border: { display: false }
        }
      }
    },
    plugins: [mpl([], [{ text: 'Environmental Comfort Index (ECI)', dist: 40, color: '#000' }])]
  });
})();
</script>
</body>
</html>
